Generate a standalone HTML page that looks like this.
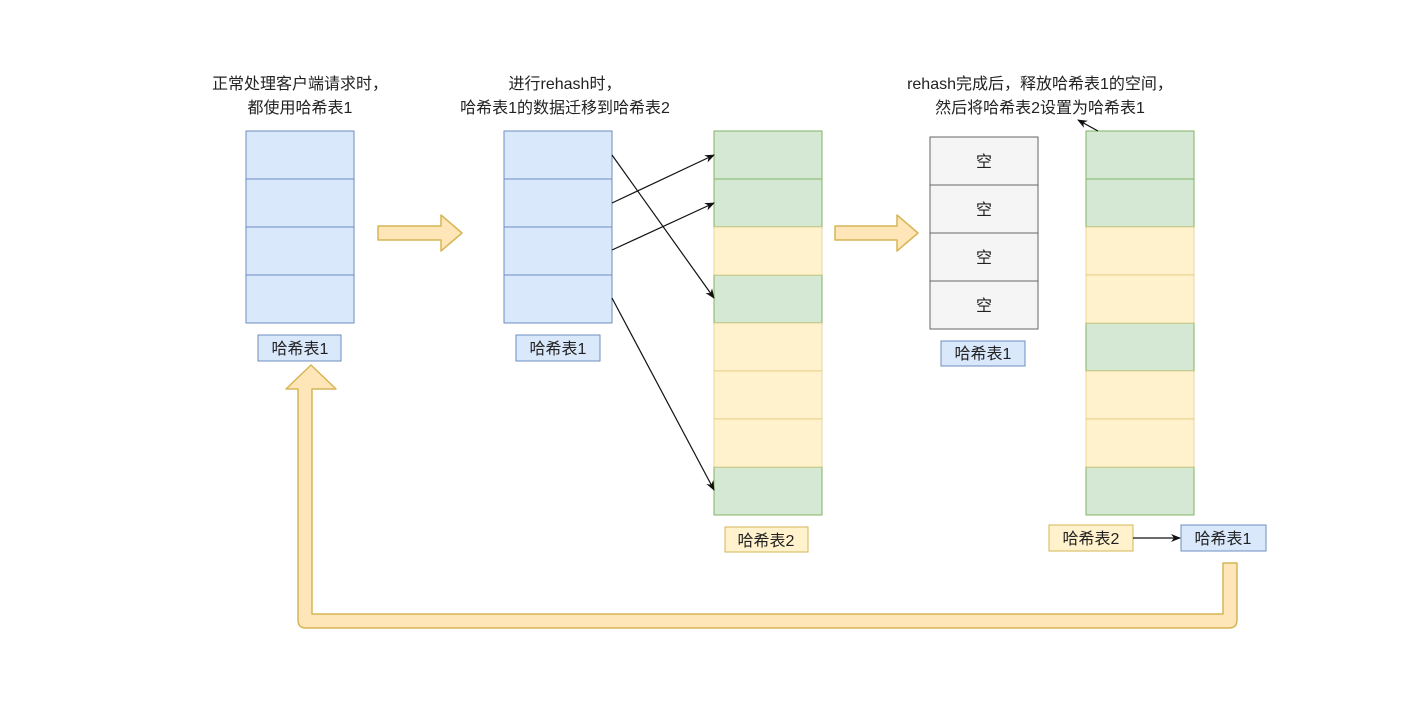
<!DOCTYPE html>
<html><head><meta charset="utf-8"><style>
body{margin:0;background:#fff;}
svg text{font-family:"Liberation Sans","Noto Sans CJK SC",sans-serif;font-size:16px;fill:#222;}
</style></head><body>
<svg width="1416" height="701" viewBox="0 0 1416 701" xmlns="http://www.w3.org/2000/svg">
<defs><marker id="a" markerWidth="10" markerHeight="8" refX="9" refY="4" orient="auto" markerUnits="userSpaceOnUse"><path d="M0,0 L10,4 L0,8 L3,4z" fill="#111"/></marker></defs>
<rect width="1416" height="701" fill="#fff"/>
<g text-anchor="middle">
<text x="300" y="89">正常处理客户端请求时，</text>
<text x="300" y="113">都使用哈希表1</text>
<text x="565" y="89">进行rehash时，</text>
<text x="565" y="113">哈希表1的数据迁移到哈希表2</text>
<text x="1040" y="89">rehash完成后，释放哈希表1的空间，</text>
<text x="1040" y="113">然后将哈希表2设置为哈希表1</text>
</g>
<g stroke="#6c8ebf" fill="#dae8fc">
<rect x="246" y="131" width="108" height="48"/><rect x="246" y="179" width="108" height="48"/><rect x="246" y="227" width="108" height="48"/><rect x="246" y="275" width="108" height="48"/>
<rect x="504" y="131" width="108" height="48"/><rect x="504" y="179" width="108" height="48"/><rect x="504" y="227" width="108" height="48"/><rect x="504" y="275" width="108" height="48"/>
<rect x="258" y="335" width="83" height="26"/><rect x="516" y="335" width="84" height="26"/><rect x="941" y="341" width="84" height="25"/><rect x="1181" y="525" width="85" height="26"/>
</g>
<g stroke="#82b366" fill="#d5e8d4">
<rect x="714" y="131" width="108" height="48"/><rect x="714" y="179" width="108" height="48"/><rect x="714" y="275" width="108" height="48"/><rect x="714" y="467" width="108" height="48"/>
<rect x="1086" y="131" width="108" height="48"/><rect x="1086" y="179" width="108" height="48"/><rect x="1086" y="323" width="108" height="48"/><rect x="1086" y="467" width="108" height="48"/>
</g>
<g stroke="#d6b656" stroke-opacity="0.5" fill="#fff2cc">
<rect x="714" y="227" width="108" height="48"/><rect x="714" y="323" width="108" height="48"/><rect x="714" y="371" width="108" height="48"/><rect x="714" y="419" width="108" height="48"/>
<rect x="1086" y="227" width="108" height="48"/><rect x="1086" y="275" width="108" height="48"/><rect x="1086" y="371" width="108" height="48"/><rect x="1086" y="419" width="108" height="48"/>
<rect x="725" y="527" width="83" height="25" stroke-opacity="1"/><rect x="1049" y="525" width="84" height="26" stroke-opacity="1"/>
</g>
<g stroke="#666" fill="#f5f5f5">
<rect x="930" y="137" width="108" height="48"/><rect x="930" y="185" width="108" height="48"/><rect x="930" y="233" width="108" height="48"/><rect x="930" y="281" width="108" height="48"/>
</g>
<g text-anchor="middle">
<text x="984" y="167">空</text><text x="984" y="215">空</text><text x="984" y="263">空</text><text x="984" y="311">空</text>
<text x="300" y="354">哈希表1</text><text x="558" y="354">哈希表1</text><text x="983" y="359">哈希表1</text><text x="1223" y="544">哈希表1</text>
<text x="766" y="546">哈希表2</text><text x="1091" y="544">哈希表2</text>
</g>
<g stroke="#111" stroke-width="1.2" fill="none" marker-end="url(#a)">
<line x1="612" y1="155" x2="714" y2="298"/>
<line x1="612" y1="203" x2="714" y2="155"/>
<line x1="612" y1="250" x2="714" y2="203"/>
<line x1="612" y1="298" x2="714" y2="490"/>
<line x1="1133" y1="538" x2="1180" y2="538"/>
<line x1="1098" y1="131" x2="1078" y2="120"/>
</g>
<g fill="#ffe6b8" stroke="#d6b656" stroke-width="1.5" stroke-linejoin="round">
<path d="M378,226 H441 V215 L462,233 L441,251 V240 H378Z"/>
<path d="M835,226 H897 V215 L918,233 L897,251 V240 H835Z"/>
<path d="M1223,563 H1237 V620 Q1237,628 1229,628 H306 Q298,628 298,620 V389 H286 L311,365 L336,389 H312 V614 H1223Z"/>
</g>
</svg>
</body></html>
